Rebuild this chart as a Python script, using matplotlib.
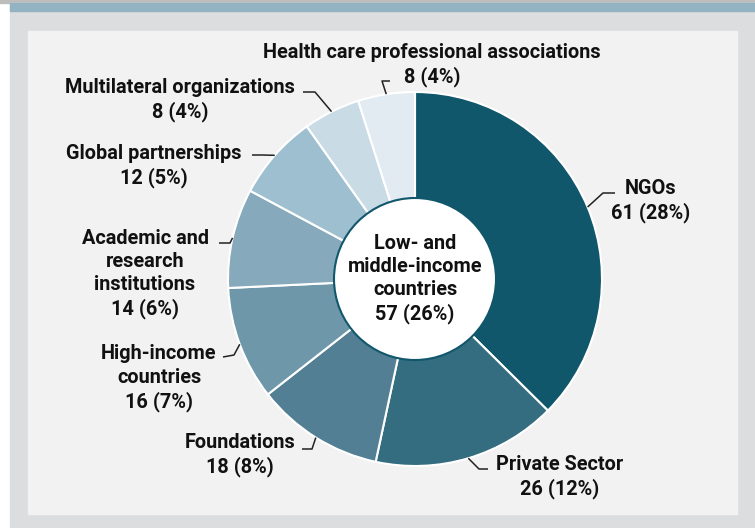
import matplotlib.pyplot as plt
import numpy as np
from matplotlib.patches import Rectangle, Circle

plt.rcParams['font.family'] = ['Roboto', 'IBM Plex Sans Condensed', 'Liberation Sans', 'DejaVu Sans']

W, H = 755, 528

categories = ["NGOs", "Private Sector", "Foundations", "High-income\ncountries",
              "Academic and\nresearch\ninstitutions", "Global partnerships",
              "Multilateral organizations", "Health care professional associations"]
counts = [61, 26, 18, 16, 14, 12, 8, 8]
shares = [28, 12, 8, 7, 6, 5, 4, 4]
center_label = "Low- and\nmiddle-income\ncountries"
center_count = 57
center_share = 26

colors = ["#10576c", "#346c80", "#527f93", "#6f97aa", "#87a9bc",
          "#9dbfd0", "#c9dbe5", "#e2ebf1"]

# label centre, elbow point, end of horizontal leader (image pixels)
label_pos = [(651, 201), (560, 477), (240, 455), (159, 378),
             (145, 274), (154, 166), (180, 100), (432, 65)]
elbows = [(603, 193), (479, 469), (312, 449), (234, 355),
          (230, 243), (262, 155), (315, 92), (382, 81)]
ends = [(615, 193), (488, 469), (302, 449), (223, 357),
        (219, 243), (252, 155), (303, 92), (390, 81)]

FS = 14.3
LS = 1.27


def fy(y):
    return H - y


fig = plt.figure(figsize=(W / 100, H / 100), dpi=100)
fig.patch.set_facecolor("white")
ax = fig.add_axes([0, 0, 1, 1])

# frame
ax.add_patch(Rectangle((0, fy(3)), W, 3, color="#bdbdbd", zorder=0))
ax.add_patch(Rectangle((10, 0), W - 10, fy(3), color="#dcdddf", zorder=0))
ax.add_patch(Rectangle((10, fy(11)), W - 10, 8, color="#93b3c3", zorder=0))
ax.add_patch(Rectangle((28, fy(514)), 737 - 28, 514 - 31, color="#f2f2f2", zorder=0))

cx, cy, R = 415, fy(279), 187
wedges, _ = ax.pie(counts, colors=colors, startangle=90, counterclock=False,
                   center=(cx, cy), radius=R, frame=True,
                   wedgeprops=dict(edgecolor="white", linewidth=1.5))
ax.set_xlim(0, W)
ax.set_ylim(0, H)
ax.set_aspect("equal")
ax.axis("off")

ax.add_patch(Circle((cx, cy), 81, facecolor="white", edgecolor="#10576c",
                    linewidth=1.5, zorder=5))
ax.text(cx, cy, f"{center_label}\n{center_count} ({center_share}%)",
        ha="center", va="center", fontsize=FS, fontweight="bold",
        linespacing=LS, color="#111111", zorder=6)

for w, cat, n, s, (lx, ly), (ex, ey), (hx, hy) in zip(
        wedges, categories, counts, shares, label_pos, elbows, ends):
    mid = np.deg2rad((w.theta1 + w.theta2) / 2)
    px, py = cx + R * np.cos(mid), cy + R * np.sin(mid)
    ax.plot([px, ex, hx], [py, fy(ey), fy(hy)], color="#222222", lw=1.1,
            solid_capstyle="butt", zorder=4)
    ax.text(lx, fy(ly), f"{cat}\n{n} ({s}%)", ha="center", va="center",
            fontsize=FS, fontweight="bold", linespacing=LS, color="#111111")

plt.savefig("out.png", dpi=100)
